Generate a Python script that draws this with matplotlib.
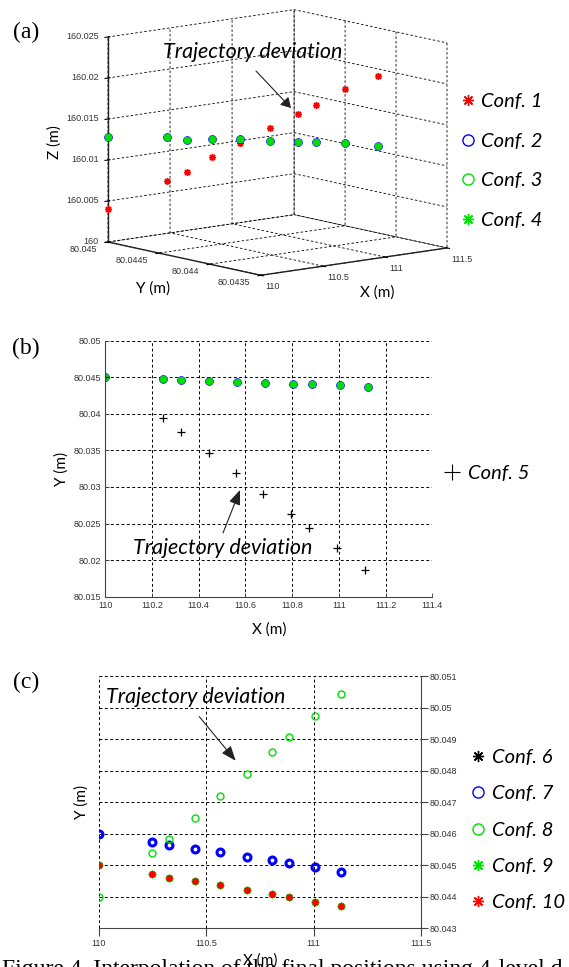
import numpy as np
import matplotlib
matplotlib.use('Agg')
import matplotlib.pyplot as plt
from matplotlib.lines import Line2D
from matplotlib.patches import FancyArrowPatch
from matplotlib.font_manager import FontProperties
from mpl_toolkits.mplot3d import proj3d

plt.rcParams['font.family'] = ['Liberation Sans', 'DejaVu Sans']

# ---------------- data ----------------
# (a) / (b): planned path, Conf. 1-4 share the same XY
x_path = [110.0, 110.245, 110.325, 110.445, 110.565, 110.685, 110.805, 110.885, 111.005, 111.125]
y_path = [80.0450, 80.04472, 80.04462, 80.04452, 80.04439, 80.04424, 80.04412, 80.04404, 80.04390, 80.04372]
z_conf1 = [160.0040, 160.0076, 160.0089, 160.0107, 160.0125, 160.0144, 160.0162, 160.0173, 160.0194, 160.0212]
z_conf234 = [160.0128, 160.0130, 160.0128, 160.0129, 160.0129, 160.0129, 160.0128, 160.0128, 160.0128, 160.0127]

# (b): Conf. 5
x_conf5 = [110.0, 110.246, 110.323, 110.443, 110.560, 110.676, 110.794, 110.873, 110.993, 111.113]
y_conf5 = [80.0450, 80.0394, 80.0375, 80.0346, 80.0319, 80.0291, 80.0263, 80.0244, 80.0216, 80.0187]

# (c): Conf. 6-10
x_c = [110.0, 110.247, 110.328, 110.449, 110.566, 110.688, 110.808, 110.887, 111.005, 111.126]
y_conf7 = [80.0460, 80.04573, 80.04564, 80.04553, 80.04541, 80.04527, 80.04516, 80.04506, 80.04493, 80.04479]
y_conf8 = [80.0440, 80.04538, 80.04583, 80.04651, 80.04720, 80.04790, 80.04860, 80.04907, 80.04974, 80.05043]
y_conf9 = [80.0450, 80.04471, 80.04460, 80.04449, 80.04436, 80.04422, 80.04408, 80.04398, 80.04384, 80.04371]
y_conf10 = [80.0450, 80.04471, 80.04460, 80.04449, 80.04436, 80.04422, 80.04408, 80.04398, 80.04384, 80.04371]
y_conf6 = y_conf9

# ticks
xa_ticks = [110, 110.5, 111, 111.5]
ya_ticks = [80.0435, 80.044, 80.0445, 80.045]
za_ticks = [160, 160.005, 160.01, 160.015, 160.02, 160.025]
xb_ticks = [110, 110.2, 110.4, 110.6, 110.8, 111, 111.2, 111.4]
yb_ticks = [80.015, 80.02, 80.025, 80.03, 80.035, 80.04, 80.045, 80.05]
xc_ticks = [110, 110.5, 111, 111.5]
yc_ticks = [80.043, 80.044, 80.045, 80.046, 80.047, 80.048, 80.049, 80.05, 80.051]

RED, BLUE, GREEN, BLACK = '#ff0000', '#0000ff', '#00e000', '#000000'
ASTER = (8, 2, 0)
TICK_KW = dict(labelsize=6.5, labelcolor='#333333')
GRID_KW = dict(color='k', linestyle=(0, (3, 2.5)), linewidth=0.7)
ITAL = FontProperties(family=['Lato', 'DejaVu Sans'], style='italic', size=14.5)
LABEL_FONT = dict(family=['Lato', 'DejaVu Sans'], size=11)
NOTE_SIZE = 15.5

W_PX, H_PX = 569, 967
fig = plt.figure(figsize=(W_PX / 100, H_PX / 100), dpi=100)


def labels_of(ticks):
    return [f'{t:g}' for t in ticks]


def fpx(x, y):
    # pixel position measured from the top-left -> figure fraction
    return x / W_PX, 1 - y / H_PX


# ---------------- (a) 3D ----------------
ax3 = fig.add_axes([0.118, 0.6225, 0.738, 0.434], projection='3d')
ax3.set_proj_type('ortho')
ax3.view_init(elev=10.3, azim=-129.4)
ax3.patch.set_visible(False)
ax3.computed_zorder = False
ax3.set_xlim(xa_ticks[0], xa_ticks[-1])
ax3.set_ylim(ya_ticks[0], ya_ticks[-1])
ax3.set_zlim(za_ticks[0], za_ticks[-1])
ax3.set_xticks(xa_ticks, labels=labels_of(xa_ticks), ha='left')
ax3.set_yticks(ya_ticks, labels=[''] * len(ya_ticks))   # drawn by hand below
ax3.set_zticks(za_ticks, labels=labels_of(za_ticks), ha='right', va='center')
ax3.tick_params(**TICK_KW)
ax3.tick_params(axis='x', pad=-4)
ax3.tick_params(axis='z', pad=-4)
for axis in (ax3.xaxis, ax3.yaxis, ax3.zaxis):
    axis.set_pane_color((1, 1, 1, 0))
    axis.pane.set_edgecolor((1, 1, 1, 0))
    axis._axinfo['grid'].update(color='k', linewidth=0.6, linestyle=(0, (3, 2.5)))
    axis.line.set_color('#222222')
    axis.line.set_linewidth(1.0)

ax3.plot(x_path, y_path, z_conf1, ls='none', marker=ASTER, ms=5, mew=1.0, color=RED)
ax3.plot(x_path, y_path, z_conf234, ls='none', marker='o', ms=5, mew=1.2, mfc='none', color=BLUE)
ax3.plot(x_path, y_path, z_conf234, ls='none', marker='o', ms=4, mew=1.2, mfc='none', color=GREEN)
ax3.plot(x_path, y_path, z_conf234, ls='none', marker=ASTER, ms=5, mew=1.2, color=GREEN)


def project(ax, x, y, z):
    px, py, _ = proj3d.proj_transform(x, y, z, ax.get_proj())
    return ax.transData.transform((px, py))


def fit_box(ax, target_left, target_right, target_top):
    # scale/shift the 3D axes so the box corners land where the reference has them
    bz = 0.87
    for _ in range(3):
        ax.set_box_aspect((1, 1, bz))
        for _ in range(2):
            fig.canvas.draw()
            left = project(ax, xa_ticks[0], ya_ticks[-1], za_ticks[0])
            right = project(ax, xa_ticks[-1], ya_ticks[0], za_ticks[0])
            pos = ax.get_position(original=True)
            Wf, Hf = fig.bbox.width, fig.bbox.height
            cx, cy = (pos.x0 + pos.width / 2) * Wf, (pos.y0 + pos.height / 2) * Hf
            k = (target_right[0] - target_left[0]) / (right[0] - left[0])
            ncx = target_left[0] - k * (left[0] - cx)
            ncy = target_left[1] - k * (left[1] - cy)
            nw, nh = pos.width * Wf * k, pos.height * Hf * k
            ax.set_position([(ncx - nw / 2) / Wf, (ncy - nh / 2) / Hf, nw / Wf, nh / Hf])
        fig.canvas.draw()
        left = project(ax, xa_ticks[0], ya_ticks[-1], za_ticks[0])
        top = project(ax, xa_ticks[0], ya_ticks[-1], za_ticks[-1])
        bz *= (target_top[1] - target_left[1]) / (top[1] - left[1])


fit_box(ax3, (108, H_PX - 242), (447, H_PX - 248), (108, H_PX - 37))

# Y tick labels sit below-left of the Y axis, MATLAB style
fig.canvas.draw()
for t, lab in zip(ya_ticks, labels_of(ya_ticks)):
    px, py = project(ax3, xa_ticks[0], t, za_ticks[0])
    fig.text((px - 11) / fig.bbox.width, (py - 7) / fig.bbox.height, lab,
             ha='right', va='center', fontsize=6.5, color='#333333')

fig.text(*fpx(55, 142), 'Z (m)', rotation=90, ha='center', va='center', **LABEL_FONT)
fig.text(*fpx(153, 289), 'Y (m)', ha='center', va='center', **LABEL_FONT)
fig.text(*fpx(377, 293), 'X (m)', ha='center', va='center', **LABEL_FONT)
fig.text(*fpx(253, 52), 'Trajectory deviation', ha='center', va='center',
         fontproperties=ITAL, fontsize=NOTE_SIZE)
fig.add_artist(FancyArrowPatch(
    fpx(256, 71), fpx(291, 108), transform=fig.transFigure,
    arrowstyle='-|>,head_length=6,head_width=3.5', color='#222222', lw=0.8,
    shrinkA=0, shrinkB=0))

leg_a = [Line2D([], [], ls='none', marker=ASTER, ms=8, mew=1.0, color=RED),
         Line2D([], [], ls='none', marker='o', ms=8, mew=1.0, mfc='none', color=BLUE),
         Line2D([], [], ls='none', marker='o', ms=8, mew=1.0, mfc='none', color=GREEN),
         Line2D([], [], ls='none', marker=ASTER, ms=8, mew=1.0, color=GREEN)]
fig.legend(leg_a, ['Conf. 1', 'Conf. 2', 'Conf. 3', 'Conf. 4'], loc='center left',
           bbox_to_anchor=fpx(460, 161), frameon=False, prop=ITAL,
           handlelength=0.8, handletextpad=0.25, labelspacing=1.12,
           borderpad=0, borderaxespad=0)

# ---------------- (b) ----------------
axb = fig.add_axes([105.3 / W_PX, 1 - 596.7 / H_PX, 327 / W_PX, 256 / H_PX])
axb.set_xlim(xb_ticks[0], xb_ticks[-1])
axb.set_ylim(yb_ticks[0], yb_ticks[-1])
axb.set_xticks(xb_ticks, labels=labels_of(xb_ticks))
axb.set_yticks(yb_ticks, labels=labels_of(yb_ticks))
axb.grid(True, **GRID_KW)
axb.set_axisbelow(True)
axb.spines[['top', 'right']].set_visible(False)
for s in ('left', 'bottom'):
    axb.spines[s].set_color('#444444')
axb.tick_params(direction='in', length=3, width=0.6, color='#444444', pad=3, **TICK_KW)

axb.plot(x_path, y_path, ls='none', marker=ASTER, ms=5, mew=1.0, color=RED)
axb.plot(x_path, y_path, ls='none', marker='o', ms=5, mew=1.2, mfc='none', color=BLUE)
axb.plot(x_path, y_path, ls='none', marker='o', ms=4, mew=1.2, mfc='none', color=GREEN)
axb.plot(x_path, y_path, ls='none', marker=ASTER, ms=5, mew=1.2, color=GREEN)
axb.plot(x_conf5, y_conf5, ls='none', marker='+', ms=6, mew=0.9, color=BLACK)

axb.set_xlabel('X (m)', **LABEL_FONT)
axb.set_ylabel('Y (m)', **LABEL_FONT)
axb.xaxis.set_label_coords(0.5, -0.099)
axb.yaxis.set_label_coords(-0.111, 0.5)
axb.annotate('', xy=(0.412, 0.417), xytext=(0.36, 0.249), xycoords='axes fraction',
             arrowprops=dict(arrowstyle='-|>,head_length=0.9,head_width=0.35',
                             color='#222222', lw=0.8, shrinkA=0, shrinkB=0))
axb.text(0.358, 0.190, 'Trajectory deviation', transform=axb.transAxes,
         ha='center', va='center', fontproperties=ITAL, fontsize=NOTE_SIZE)

fig.legend([Line2D([], [], ls='none', marker='+', ms=12, mew=0.8, color=BLACK)],
           ['Conf. 5'], loc='center left', bbox_to_anchor=fpx(444, 473),
           frameon=False, prop=ITAL, handlelength=0.8, handletextpad=0.4,
           borderpad=0, borderaxespad=0)

# ---------------- (c) ----------------
axc = fig.add_axes([98.7 / W_PX, 1 - 928.3 / H_PX, 322.3 / W_PX, 252.3 / H_PX])
axc.set_xlim(xc_ticks[0], xc_ticks[-1])
axc.set_ylim(yc_ticks[0], yc_ticks[-1])
axc.set_xticks(xc_ticks, labels=labels_of(xc_ticks))
axc.set_yticks(yc_ticks, labels=labels_of(yc_ticks))
axc.yaxis.tick_right()
axc.grid(True, **GRID_KW)
axc.set_axisbelow(True)
axc.spines[['top', 'left']].set_visible(False)
for s in ('right', 'bottom'):
    axc.spines[s].set_color('#444444')
axc.tick_params(axis='x', direction='out', length=6, width=0.8, color='#444444', pad=2, **TICK_KW)
axc.tick_params(axis='y', direction='out', length=5, width=0.8, color='#444444', pad=1, **TICK_KW)

axc.plot(x_c, y_conf6, ls='none', marker=ASTER, ms=5, mew=1.0, color=BLACK)
axc.plot(x_c, y_conf7, ls='none', marker='o', ms=5, mew=2.2, mfc='none', color=BLUE)
axc.plot(x_c, y_conf8, ls='none', marker='o', ms=5, mew=1.0, mfc='none', color=GREEN)
axc.plot(x_c, y_conf9, ls='none', marker=ASTER, ms=5.5, mew=1.2, color=GREEN)
axc.plot(x_c, y_conf10, ls='none', marker=ASTER, ms=4.5, mew=1.2, color=RED)

axc.set_xlabel('X (m)', **LABEL_FONT)
axc.set_ylabel('Y (m)', **LABEL_FONT)
axc.yaxis.set_label_position('left')
axc.xaxis.set_label_coords(0.5, -0.098)
axc.yaxis.set_label_coords(-0.030, 0.5)
axc.annotate('', xy=(0.425, 0.664), xytext=(0.312, 0.839), xycoords='axes fraction',
             arrowprops=dict(arrowstyle='-|>,head_length=0.9,head_width=0.35',
                             color='#222222', lw=0.8, shrinkA=0, shrinkB=0))
axc.text(0.302, 0.918, 'Trajectory deviation', transform=axc.transAxes,
         ha='center', va='center', fontproperties=ITAL, fontsize=NOTE_SIZE)

leg_c = [Line2D([], [], ls='none', marker=ASTER, ms=8, mew=1.0, color=BLACK),
         Line2D([], [], ls='none', marker='o', ms=8, mew=1.0, mfc='none', color=BLUE),
         Line2D([], [], ls='none', marker='o', ms=8, mew=1.0, mfc='none', color=GREEN),
         Line2D([], [], ls='none', marker=ASTER, ms=8, mew=1.0, color=GREEN),
         Line2D([], [], ls='none', marker=ASTER, ms=8, mew=1.0, color=RED)]
fig.legend(leg_c, ['Conf. 6', 'Conf. 7', 'Conf. 8', 'Conf. 9', 'Conf. 10'],
           loc='center left', bbox_to_anchor=fpx(470, 830), frameon=False, prop=ITAL,
           handlelength=0.8, handletextpad=0.3, labelspacing=0.95,
           borderpad=0, borderaxespad=0)

# panel tags and caption
for tag, (px, py) in zip(['(a)', '(b)', '(c)'], [(26, 32), (26, 348), (26, 682)]):
    fig.text(*fpx(px, py), tag, ha='center', va='center',
             family=['Liberation Serif', 'DejaVu Serif'], fontsize=17)
fig.text(2 / W_PX, -8.5 / H_PX, 'Figure 4. Interpolation of the final positions using 4-level d',
         family=['Liberation Serif', 'DejaVu Serif'], fontsize=17, va='baseline', zorder=10)

fig.savefig('out.png', dpi=100)
